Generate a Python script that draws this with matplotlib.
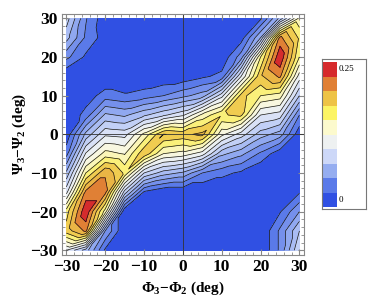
import numpy as np
import matplotlib
matplotlib.use('Agg')
import matplotlib.pyplot as plt
import matplotlib.tri as mtri

# grid of the 2D histogram (deg)
phi = np.arange(-30, 31, 5)
psi = np.arange(-30, 31, 5)

# density, in contour steps of 0.25/15
# rows: psi = 30 (top) ... -30 (bottom); columns: phi = -30 ... 30
steps = [
    [5.5, 2.1, 0.3, 0.0, 0.0, 0.0, 0.0, 0.0, 0.0, 0.0, 0.8, 4.3, 9.3],
    [4.4, 1.8, 0.5, 0.0, 0.0, 0.0, 0.0, 0.0, 0.0, 0.5, 4.0, 13.3, 10.8],
    [2.3, 0.8, 0.0, 0.0, 0.0, 0.0, 0.0, 0.0, 0.2, 2.5, 10.0, 14.9, 10.0],
    [0.0, 0.0, 0.0, 0.0, 0.0, 0.2, 0.3, 0.8, 1.3, 7.0, 11.8, 13.2, 7.5],
    [0.0, 0.4, 1.5, 1.15, 1.5, 2.0, 2.7, 3.5, 6.6, 11.4, 10.0, 9.5, 5.0],
    [0.0, 1.4, 4.2, 3.8, 4.8, 5.8, 6.8, 9.3, 10.9, 11.2, 7.0, 6.5, 2.0],
    [0.25, 4.3, 6.8, 6.6, 9.3, 12.05, 11.7, 12.3, 8.3, 6.5, 4.5, 3.5, 0.3],
    [1.6, 7.1, 9.4, 8.9, 11.8, 9.0, 8.6, 7.5, 4.3, 3.3, 1.8, 0.3, 0.0],
    [4.2, 10.0, 12.9, 10.8, 6.0, 4.5, 3.8, 2.0, 1.3, 0.8, 0.0, 0.0, 0.0],
    [6.7, 13.3, 13.3, 5.5, 0.8, 0.0, 0.0, 0.0, 0.0, 0.0, 0.0, 0.0, 0.9],
    [10.5, 14.9, 9.5, 0.0, 0.0, 0.0, 0.0, 0.0, 0.0, 0.0, 0.0, 0.9, 3.0],
    [11.5, 13.2, 3.0, 0.0, 0.0, 0.0, 0.0, 0.0, 0.0, 0.0, 0.0, 2.2, 5.0],
    [7.0, 4.5, 0.8, 0.0, 0.0, 0.0, 0.0, 0.0, 0.0, 0.0, 0.0, 2.2, 6.0],
]
density = np.array(steps)[::-1] * 0.25 / 15

band_colors = ['#3050e3', '#5a7ae9', '#7590ec', '#90a8f0', '#a9bcf3',
               '#c2d0f6', '#d9e1f6', '#ecf0f2', '#f8f7e0', '#fbf6b8',
               '#faf07a', '#f0cc50', '#eab545', '#e08035', '#d52b2d']
legend_colors = ['#3050e3', '#5a7ae9', '#95adf0', '#cdd8f8', '#eef1f1',
                 '#fcfacd', '#fcf464', '#eec346', '#e08035', '#d62a2c']
legend_labels = {0: '0', 9: '0.25'}

plt.rcParams['font.family'] = 'Liberation Serif'
plt.rcParams['mathtext.fontset'] = 'custom'
plt.rcParams['mathtext.rm'] = 'Liberation Serif:bold'
plt.rcParams['mathtext.it'] = 'Liberation Serif:bold'
plt.rcParams['mathtext.bf'] = 'Liberation Serif:bold'

# triangulated grid, diagonals running lower-left to upper-right
X, Y = np.meshgrid(phi, psi)
n = len(phi)
tris = []
for i in range(n - 1):
    for j in range(n - 1):
        a = i * n + j
        tris.append([a, a + 1, a + n + 1])
        tris.append([a, a + n + 1, a + n])
tri = mtri.Triangulation(X.ravel(), Y.ravel(), tris)

fig = plt.figure(figsize=(3.74, 3.06), dpi=100)
ax = fig.add_axes([0.165, 0.167, 0.648, 0.788])

levels = np.linspace(0, 0.25, 16)
ax.tricontourf(tri, density.ravel(), levels=levels, colors=band_colors)
ax.tricontour(tri, density.ravel(), levels=levels[1:-1], colors='#111111',
              linewidths=0.5)
ax.axhline(0, color='#333333', lw=0.6)
ax.axvline(0, color='#333333', lw=0.6)

ax.set_xlim(-31.2, 31.2)
ax.set_ylim(-31.2, 31.2)
ax.set_xticks(range(-30, 31, 10))
ax.set_yticks(range(-30, 31, 10))
ax.set_xticks(range(-30, 31, 2), minor=True)
ax.set_yticks(range(-30, 31, 2), minor=True)
ax.tick_params(which='both', direction='in', top=True, right=True,
               color='#888888', labelsize=12.5, pad=3)
ax.tick_params(which='major', length=4)
ax.tick_params(which='minor', length=2)
for lab in ax.get_xticklabels() + ax.get_yticklabels():
    lab.set_fontweight('bold')
for sp in ax.spines.values():
    sp.set_color('#888888')
    sp.set_linewidth(0.8)

ax.set_xlabel(r'$\Phi_3$−$\Phi_2$ (deg)', fontsize=11, fontweight='bold', labelpad=3)
ax.set_ylabel(r'$\Psi_3$−$\Psi_2$ (deg)', fontsize=11, fontweight='bold', labelpad=2)

# legend bar
lax = fig.add_axes([0.860, 0.316, 0.1176, 0.49])
lax.bar(np.full(10, 1.0), np.ones(10), width=14.6, bottom=np.arange(10),
        color=legend_colors, align='edge')
for i, t in legend_labels.items():
    lax.text(16.5, i + 0.5, t, fontsize=6.5, va='center', ha='left')
lax.set_xlim(0, 44)
lax.set_ylim(-0.14, 10.19)
lax.set_xticks([])
lax.set_yticks([])
for sp in lax.spines.values():
    sp.set_color('#777777')
    sp.set_linewidth(0.8)

fig.savefig('out.png', dpi=100)
